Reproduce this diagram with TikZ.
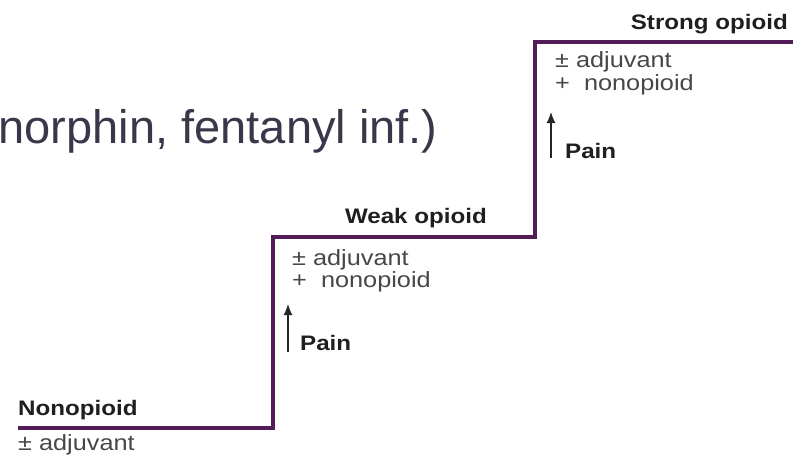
\documentclass[tikz,border=0pt]{standalone}
\usepackage{fontspec}
\setmainfont{Liberation Sans}
\newfontfamily\stairfont[FakeStretch=1.15]{Liberation Sans}
\usetikzlibrary{arrows.meta}
\definecolor{stairline}{RGB}{84,28,86}
\definecolor{slidetext}{RGB}{56,56,74}
\tikzset{
steplabel/.style={anchor=base west, inner sep=0pt, text=black!88,
  font=\stairfont\fontsize{21}{25}\selectfont\bfseries},
drugline/.style={anchor=base west, inner sep=0pt, text=black!72,
  font=\stairfont\fontsize{22}{26}\selectfont},
painarrow/.style={-{Latex[length=11pt,width=9pt]}, line width=1.2pt, black!85},
headline/.style={anchor=base west, inner sep=0pt, font=\fontsize{47}{56}\selectfont}
}
\begin{document}
\begin{tikzpicture}[x=1pt,y=-1pt]
\useasboundingbox (0,0) rectangle (793,456);
\node[headline, text=slidetext] (head) at (-1.5,143) {norphin, fentanyl inf.)};
\coordinate (s0) at (18,428);
\coordinate (s1) at (273,428);
\coordinate (s2) at (273,237);
\coordinate (s3) at (535,237);
\coordinate (s4) at (535,42);
\coordinate (s5) at (793,42);
\draw[stairline, line width=3.6pt, line join=miter] (s0)--(s1)--(s2)--(s3)--(s4)--(s5);
\node[steplabel] (nonop) at (18,415) {Nonopioid};
\node[drugline] (nonopadj) at (18,450) {± adjuvant};
\node[steplabel, anchor=base east] (weak) at (487,223) {Weak opioid};
\node[drugline] (weakadj) at (292,265) {± adjuvant};
\node[drugline] (weaknon) at (292,287) {+~~nonopioid};
\coordinate (weakfoot) at (288,352);
\coordinate (weaktip) at (288,304);
\draw[painarrow] (weakfoot)--(weaktip);
\node[steplabel] (weakpain) at (300,350) {Pain};
\node[steplabel, anchor=base east] (strong) at (788,29) {Strong opioid};
\node[drugline] (strongadj) at (555,67) {± adjuvant};
\node[drugline] (strongnon) at (555,90) {+~~nonopioid};
\coordinate (strongfoot) at (551,158);
\coordinate (strongtip) at (551,112);
\draw[painarrow] (strongfoot)--(strongtip);
\node[steplabel] (strongpain) at (565,158) {Pain};
\end{tikzpicture}
\end{document}
